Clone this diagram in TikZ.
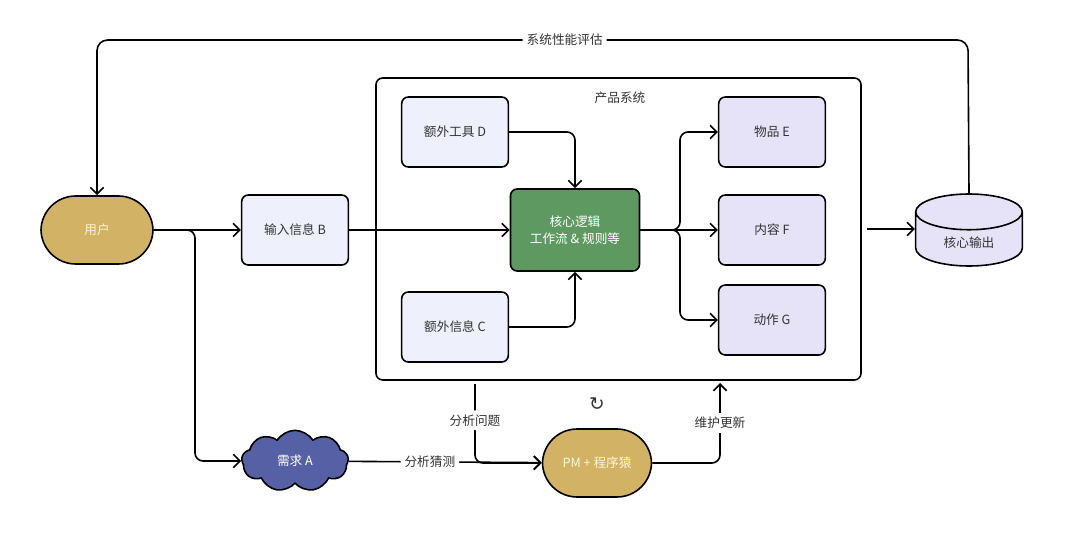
\documentclass[tikz,border=0pt]{standalone}
\usepackage{fontspec}
\setmainfont{Noto Sans CJK SC}
\newfontfamily\symfont{DejaVu Sans}
\usetikzlibrary{arrows.meta, shapes.geometric, shapes.symbols}
\definecolor{ink}{HTML}{333333}
\definecolor{sand}{HTML}{D2B365}
\definecolor{sandtext}{HTML}{FFF4D6}
\definecolor{leaf}{HTML}{5E9962}
\definecolor{sky}{HTML}{EEF1FB}
\definecolor{lilac}{HTML}{E6E3F8}
\definecolor{dusk}{HTML}{5660A4}

\begin{document}
\begin{tikzpicture}[x=0.75pt, y=-0.75pt, line width=1.2pt, font=\fontsize{9.5}{13}\selectfont, text=ink,
    box/.style={draw, rounded corners=5pt, minimum width=80pt, minimum height=52.5pt},
    pill/.style={draw, fill=sand, text=sandtext, rounded corners=26pt, minimum height=51pt},
    arr/.style={-{Straight Barb[length=5pt, width=10pt]}, rounded corners=6pt},
    lbl/.style={fill=white, inner sep=3pt}]
  \useasboundingbox (0,0) rectangle (1070,542);
  \node[draw, rounded corners=5pt, minimum width=363.75pt, minimum height=226.5pt] (frame) at (618.5,229) {};
  \node at (620,98) {产品系统};
  \node[pill, minimum width=84pt] (user) at (97,230) {用户};
  \node[box, fill=sky] (inB) at (295,230) {输入信息 B};
  \node[box, fill=sky] (toolD) at (455,132) {额外工具 D};
  \node[box, fill=sky] (infoC) at (455,327) {额外信息 C};
  \node[box, fill=leaf, text=white, align=center, minimum width=96.75pt, minimum height=61.5pt] (core) at (575,230) {核心逻辑\\工作流 \& 规则等};
  \foreach \N/\Y/\T in {itemE/132/物品 E, contF/230/内容 F, actG/320/动作 G}
    \node[box, fill=lilac] (\N) at (772,\Y) {\T};
  \node[draw, fill=lilac, cylinder, shape border rotate=90, aspect=0.6, minimum width=80pt, minimum height=54pt, anchor=shape center] (output) at (969,230) {核心输出};
  \node[draw, fill=dusk, text=white, cloud, cloud puffs=9, cloud puff arc=115, aspect=1.9, minimum width=80pt, minimum height=46pt, inner sep=0pt] (need) at (295,461) {需求 A};
  \node[pill, minimum width=81.75pt] (pm) at (597,463) {PM + 程序猿};
  \node at (597,404) {\symfont\fontsize{14}{14}\selectfont ↻};

  \coordinate (split) at (195,230);
  \coordinate (fork) at (680,230);
  \coordinate (topR) at (968,40);
  \coordinate (topL) at (97,40);
  \coordinate (ask) at (475,384);
  \coordinate (fix) at (720,383);

  \draw[arr] (user) -- (inB);
  \draw[arr] (user.east) -- (split) |- (need);
  \draw[arr] (inB) -- (core);
  \draw[arr] (toolD) -| (core);
  \draw[arr] (infoC) -| (core);
  \draw[arr] (core) -- (fork) |- (itemE);
  \draw[arr] (core) -- (contF);
  \draw[arr] (core) -- (fork) |- (actG);
  \draw[arr] ([xshift=4pt]frame.east) -- (frame.east -| output.west);
  \draw[arr, rounded corners=8pt] (output.north) -- (topR) -- node[lbl, pos=0.463] {系统性能评估} (topL) -- (user);
  \draw[arr] (need) -- node[lbl, pos=0.42] {分析猜测} (pm);
  \draw[arr] (ask) |- node[lbl, pos=0.23] {分析问题} (pm);
  \draw[arr] (pm) -| node[lbl, pos=0.75] {维护更新} (fix);
\end{tikzpicture}
\end{document}
